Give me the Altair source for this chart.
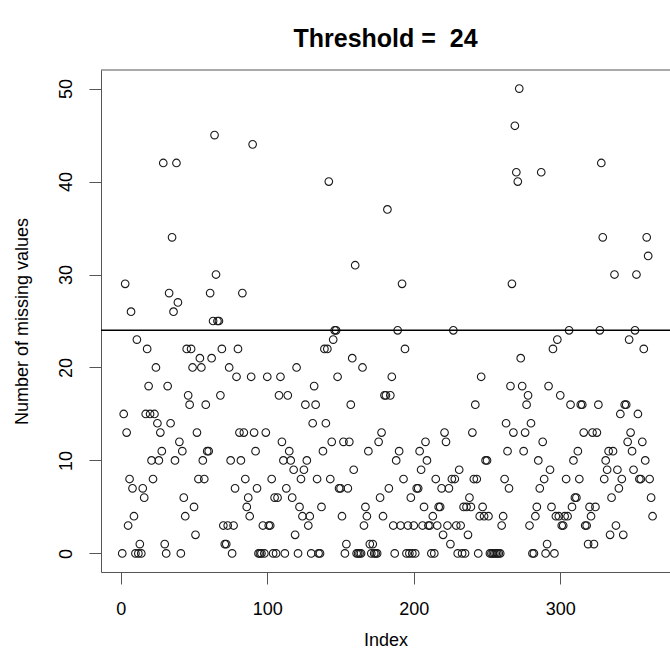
import altair as alt
import pandas as pd

# Number of missing values per record, in index order
missing = [
    0, 15, 29, 13, 3, 8, 26, 7, 4, 0, 23, 0, 1, 0, 7, 6, 15, 22, 18, 15,
    10, 8, 15, 20, 14, 10, 13, 11, 42, 1, 0, 18, 28, 14, 34, 26, 10, 42, 27, 12,
    0, 11, 6, 4, 22, 17, 16, 22, 20, 5, 2, 13, 8, 21, 20, 10, 8, 16, 11, 11,
    28, 21, 25, 45, 30, 25, 25, 17, 22, 3, 1, 1, 3, 20, 10, 0, 3, 7, 19, 22,
    13, 10, 28, 13, 8, 5, 6, 4, 19, 44, 13, 11, 7, 0, 0, 0, 3, 0, 13, 19,
    3, 3, 8, 0, 6, 0, 6, 17, 19, 12, 10, 0, 7, 17, 11, 10, 6, 9, 2, 20,
    0, 5, 8, 4, 9, 16, 10, 3, 4, 0, 14, 18, 16, 8, 0, 0, 5, 11, 22, 14,
    22, 40, 8, 12, 23, 24, 24, 19, 7, 7, 4, 12, 0, 1, 7, 12, 16, 21, 9, 31,
    0, 0, 0, 0, 20, 3, 5, 4, 11, 1, 0, 1, 0, 0, 0, 12, 6, 13, 4, 17,
    17, 37, 7, 17, 19, 3, 0, 10, 24, 11, 3, 29, 8, 22, 0, 3, 0, 6, 0, 3,
    0, 7, 7, 11, 9, 3, 5, 12, 10, 3, 3, 0, 4, 0, 8, 3, 5, 5, 7, 2,
    13, 12, 3, 7, 1, 8, 24, 8, 3, 0, 9, 3, 0, 5, 0, 5, 2, 6, 5, 13,
    8, 16, 8, 0, 4, 19, 5, 4, 10, 10, 4, 0, 0, 0, 0, 0, 0, 0, 0, 3,
    4, 8, 14, 11, 7, 18, 29, 13, 46, 41, 40, 50, 21, 18, 11, 13, 16, 17, 3, 14,
    0, 0, 4, 5, 10, 7, 41, 12, 8, 0, 1, 18, 9, 5, 22, 0, 4, 23, 4, 17,
    3, 3, 4, 8, 4, 24, 16, 5, 10, 6, 6, 11, 8, 16, 16, 13, 3, 3, 1, 5,
    4, 13, 1, 5, 13, 16, 24, 42, 34, 8, 10, 9, 11, 2, 6, 11, 30, 3, 9, 7,
    15, 8, 2, 16, 16, 12, 23, 13, 11, 9, 24, 30, 15, 8, 8, 12, 22, 10, 34, 32,
    8, 6, 4,
]
index = list(range(1, len(missing) + 1))
threshold = 24

x_ticks = [0, 100, 200, 300]
y_ticks = [0, 10, 20, 30, 40, 50]

FONT = "Liberation Sans"
FRAME = "#555555"

df = pd.DataFrame({"Index": index, "Missing": missing})
thr = pd.DataFrame({"t": [threshold]})

W, H = 569, 502
x_scale = alt.Scale(domain=[-13.5, 374.9], nice=False, zero=False)
y_scale = alt.Scale(domain=[-2, 52], nice=False, zero=False)

common = dict(grid=False, domainColor=FRAME, domainWidth=1, tickColor=FRAME,
              tickSize=12, tickWidth=1, labelFont=FONT, labelFontSize=18,
              labelColor="black", titleFont=FONT, titleFontSize=18,
              titleFontWeight="normal", titleColor="black",
              labelFlush=False, labelOverlap=False)

points = alt.Chart(df).mark_point(
    shape="circle", filled=False, size=58, strokeWidth=1.1,
    color="#1a1a1a", opacity=1, clip=True
).encode(
    x=alt.X("Index:Q", scale=x_scale,
            axis=alt.Axis(values=x_ticks, title="Index", labelPadding=16,
                          labelBaseline="top",
                          titleY=68, titleBaseline="middle", **common)),
    y=alt.Y("Missing:Q", scale=y_scale,
            axis=alt.Axis(values=y_ticks, title="Number of missing values",
                          labelAngle=270, labelAlign="center",
                          labelBaseline="bottom", labelPadding=14,
                          titleAngle=270, titleX=-79, titleY=H / 2,
                          titleAlign="center", titleBaseline="middle",
                          **common)),
)

cut = alt.Chart(thr).mark_rule(color="black", strokeWidth=1.5).encode(
    y=alt.Y("t:Q", scale=y_scale)
)

# top edge of the plot frame
top_edge = alt.Chart(thr).mark_rule(color=FRAME, strokeWidth=1).encode(
    x=alt.value(0), x2=alt.value(W), y=alt.value(0)
)

chart = alt.layer(points, cut, top_edge).properties(
    width=W, height=H,
    background="white",
    title=alt.TitleParams("Threshold = \u00a024", font=FONT, fontSize=25,
                          fontWeight="bold", anchor="middle", color="black",
                          offset=18),
    autosize=alt.AutoSizeParams(type="none"),
    padding={"left": 101, "top": 70, "right": 0, "bottom": 99},
).configure_view(stroke=None)

chart.save("out.html", embed_options={"renderer": "svg", "actions": False})
